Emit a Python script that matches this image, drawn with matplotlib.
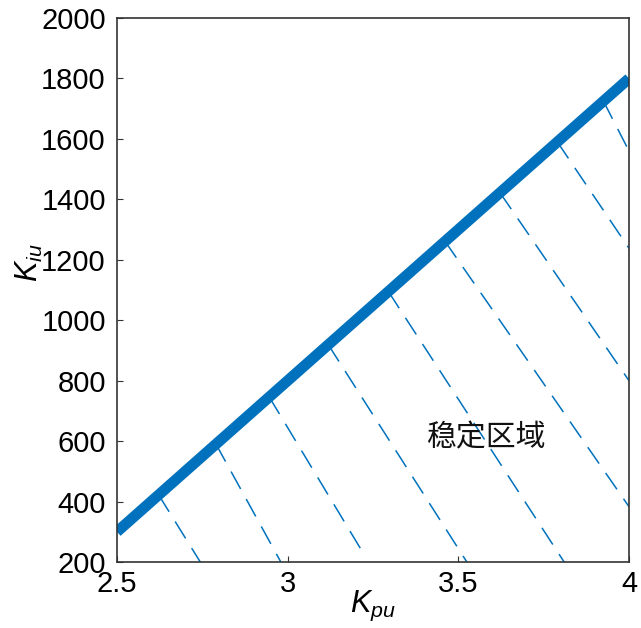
import matplotlib
matplotlib.use("Agg")
import matplotlib.pyplot as plt

plt.rcParams['font.family'] = ['Liberation Sans', 'DejaVu Sans']
plt.rcParams['mathtext.fontset'] = 'custom'
plt.rcParams['mathtext.rm'] = 'Liberation Sans'
plt.rcParams['mathtext.it'] = 'Liberation Sans:italic'

# stability boundary
kpu = [2.5, 4.0]
kiu = [300, 1800]

# hatch lines: start on the boundary, end at the bottom / right edge
hatch_x0 = [2.622, 2.790, 2.946, 3.119, 3.295, 3.461, 3.622, 3.790, 3.925]
hatch_y0 = [422, 590, 746, 919, 1095, 1261, 1422, 1590, 1725]
hatch_x1 = [2.744, 2.980, 3.228, 3.525, 3.810, 4.0, 4.0, 4.0, 4.0]
hatch_y1 = [200, 200, 217, 200, 200, 383, 800, 1238, 1560]

xticks = [2.5, 3, 3.5, 4]
xticklabels = ['2.5', '3', '3.5', '4']
yticks = [200, 400, 600, 800, 1000, 1200, 1400, 1600, 1800, 2000]

blue = '#0072BD'

fig = plt.figure(figsize=(6.41, 6.28), dpi=100)
ax = fig.add_axes([0.1825, 0.1051, 0.7988, 0.8662])

for i in range(len(hatch_x0)):
    ax.plot([hatch_x0[i], hatch_x1[i]], [hatch_y0[i], hatch_y1[i]],
            color=blue, lw=1.1, dashes=(13, 7.5))
ax.plot(kpu, kiu, color=blue, lw=7.8, solid_capstyle='butt')

ax.text(3.405, 612, '稳定区域', fontsize=21.5, ha='left', va='center',
        family=['Noto Sans CJK SC', 'DejaVu Sans'], color='#111111')

ax.set_xlim(2.5, 4)
ax.set_ylim(200, 2000)
ax.set_xticks(xticks)
ax.set_xticklabels(xticklabels)
ax.set_yticks(yticks)
ax.tick_params(direction='in', length=4, width=0.8, labelsize=21,
               top=False, right=False, color='#333333')
ax.tick_params(axis='y', pad=8)
ax.tick_params(axis='x', pad=6)
for s in ax.spines.values():
    s.set_color('#333333')
    s.set_linewidth(1.2)

ax.set_xlabel(r'$K_{pu}$', fontsize=22)
ax.set_ylabel(r'$K_{iu}$', fontsize=22)
ax.xaxis.set_label_coords(0.5, -0.05)
ax.yaxis.set_label_coords(-0.14, 0.55)

fig.savefig('out.png', dpi=100)
